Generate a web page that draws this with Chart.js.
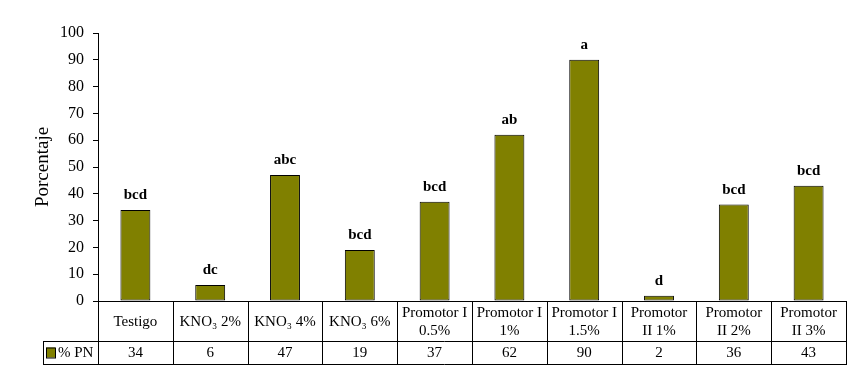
<!DOCTYPE html>
<html>
<head>
<meta charset="utf-8">
<script src="https://cdn.jsdelivr.net/npm/chart.js@4"></script>
<style>
  html, body { margin: 0; padding: 0; background: #fff; }
  #wrap { width: 864px; height: 372px; position: relative; }
</style>
</head>
<body>
<div id="wrap"><canvas id="c" width="864" height="372"></canvas></div>
<script>
const categories = [
  ['Testigo'], ['KNO\u2083 2%'], ['KNO\u2083 4%'], ['KNO\u2083 6%'],
  ['Promotor I', '0.5%'], ['Promotor I', '1%'], ['Promotor I', '1.5%'],
  ['Promotor', 'II 1%'], ['Promotor', 'II 2%'], ['Promotor', 'II 3%']
];
const values = [34, 6, 47, 19, 37, 62, 90, 2, 36, 43];
const letters = ['bcd', 'dc', 'abc', 'bcd', 'bcd', 'ab', 'a', 'd', 'bcd', 'bcd'];
const seriesName = '% PN';
const yTicks = [0, 10, 20, 30, 40, 50, 60, 70, 80, 90, 100];
const yTitle = 'Porcentaje';

const SERIF = '"Liberation Serif", "Times New Roman", serif';
const BAR = '#808000';

const tablePlugin = {
  id: 'dataTable',
  afterDatasetsDraw(chart) {
    const ctx = chart.ctx;
    const x = chart.scales.x, y = chart.scales.y;
    const area = chart.chartArea;
    const meta = chart.getDatasetMeta(0);
    ctx.save();
    // letters above bars
    ctx.fillStyle = '#000';
    ctx.font = 'bold 15px ' + SERIF;
    ctx.textAlign = 'center';
    ctx.textBaseline = 'alphabetic';
    meta.data.forEach((bar, i) => {
      ctx.fillText(letters[i], bar.x, bar.y - 11);
    });
    // table
    const n = categories.length;
    const step = (area.right - area.left) / n;
    const top = y.getPixelForValue(0);
    const row1 = top + 40;
    const row2 = row1 + 23;
    const legLeft = 43;
    ctx.strokeStyle = '#000';
    ctx.lineWidth = 1;
    ctx.beginPath();
    ctx.moveTo(area.left, top + 0.5); ctx.lineTo(area.right, top + 0.5);
    ctx.moveTo(legLeft, row1 + 0.5); ctx.lineTo(area.right, row1 + 0.5);
    ctx.moveTo(legLeft, row2 + 0.5); ctx.lineTo(area.right, row2 + 0.5);
    for (let i = 0; i <= n; i++) {
      const xx = Math.round(area.left + i * step) + 0.5;
      ctx.moveTo(xx, top); ctx.lineTo(xx, row2 + 1);
    }
    ctx.moveTo(legLeft + 0.5, row1); ctx.lineTo(legLeft + 0.5, row2 + 1);
    ctx.stroke();
    ctx.font = '15px ' + SERIF;
    ctx.textBaseline = 'middle';
    ctx.fillStyle = '#000';
    categories.forEach((lines, i) => {
      const cx = x.getPixelForValue(i);
      const cy = (top + row1) / 2;
      const lh = 18;
      lines.forEach((ln, j) => {
        ctx.fillText(ln, cx, cy + (j - (lines.length - 1) / 2) * lh + 1);
      });
      ctx.fillText(String(values[i]), cx, (row1 + row2) / 2 + 1);
    });
    // legend key
    const ky = (row1 + row2) / 2;
    ctx.fillStyle = BAR;
    ctx.fillRect(46, ky - 5, 9, 10);
    ctx.strokeRect(46.5, ky - 4.5, 9, 10);
    ctx.fillStyle = '#000';
    ctx.textAlign = 'left';
    ctx.fillText(seriesName, 58, ky + 1);
    ctx.restore();
  }
};

new Chart(document.getElementById('c'), {
  type: 'bar',
  data: {
    labels: categories,
    datasets: [{
      label: seriesName,
      data: values,
      backgroundColor: BAR,
      borderColor: '#000',
      borderWidth: 1,
      borderSkipped: false,
      barPercentage: 0.4,
      categoryPercentage: 1.0
    }]
  },
  options: {
    responsive: false,
    animation: false,
    devicePixelRatio: 1,
    layout: { padding: { top: 33, bottom: 71, right: 18, left: 0 } },
    plugins: { legend: { display: false }, tooltip: { enabled: false } },
    scales: {
      x: { display: false, offset: true },
      y: {
        min: 0, max: 100,
        afterFit(scale) { scale.width = 98; },
        afterBuildTicks(scale) { scale.ticks = yTicks.map(v => ({ value: v })); },
        border: { display: true, color: '#000', width: 1 },
        grid: { drawOnChartArea: false, drawTicks: true, tickLength: 5, color: '#000' },
        ticks: { color: '#000', padding: 9, font: { family: SERIF, size: 16 } },
        title: {
          display: true, text: yTitle, color: '#000',
          font: { family: SERIF, size: 19 },
          padding: { top: 32, bottom: 0 }
        }
      }
    }
  },
  plugins: [tablePlugin]
});
</script>
</body>
</html>
